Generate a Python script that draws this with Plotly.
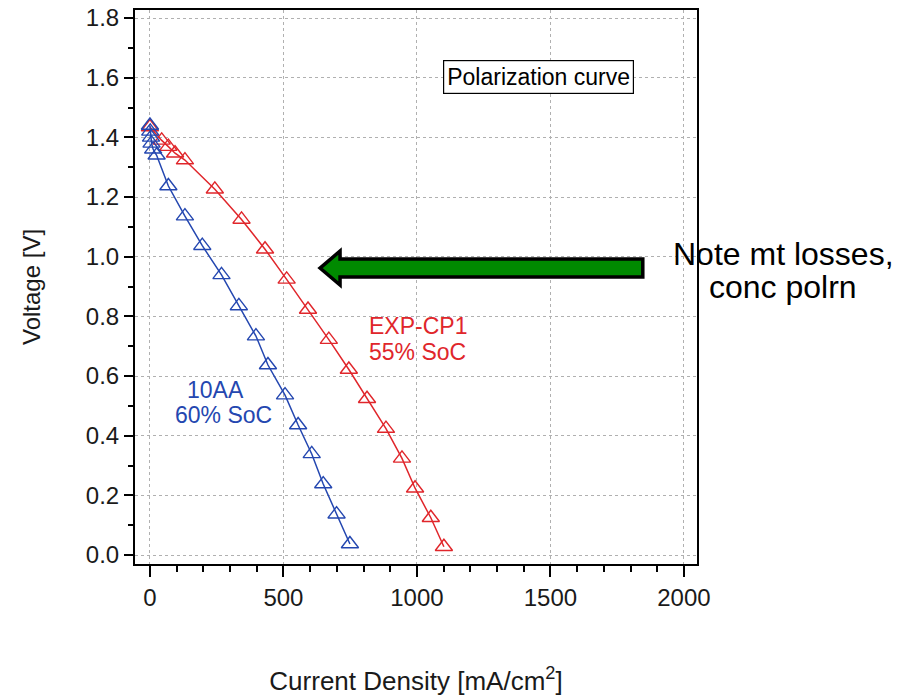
import plotly.graph_objects as go

# Data
red_x = [0, 44, 69, 94, 131, 243, 343, 431, 512, 592, 670, 745, 813, 884, 944, 993, 1052, 1101]
red_y = [1.435, 1.39, 1.369, 1.347, 1.324, 1.226, 1.125, 1.025, 0.924, 0.823, 0.722, 0.622, 0.524, 0.424, 0.324, 0.224, 0.125, 0.028]
blue_x = [0, 1, 4, 6, 12, 25, 69, 131, 196, 268, 333, 397, 442, 506, 555, 606, 649, 699, 749]
blue_y = [1.44, 1.42, 1.40, 1.38, 1.36, 1.34, 1.237, 1.136, 1.037, 0.939, 0.835, 0.734, 0.637, 0.536, 0.436, 0.339, 0.238, 0.137, 0.037]
red_label = ["EXP-CP1", "55% SoC"]
blue_label = ["10AA", "60% SoC"]
note_label = ["Note mt losses,", "conc polrn"]
x_ticks = [0, 500, 1000, 1500, 2000]
y_ticks = [0.0, 0.2, 0.4, 0.6, 0.8, 1.0, 1.2, 1.4, 1.6, 1.8]

RED = "#e0262b"
BLUE = "#2447b0"
INK = "#1a1a1a"
FONT = "Liberation Sans, Arial, sans-serif"

W, H = 909, 697
L, T, R, B = 135, 10, 212, 133

fig = go.Figure()
fig.add_trace(go.Scatter(x=red_x, y=red_y, mode="lines+markers", name="EXP-CP1",
                         line=dict(color=RED, width=1.5),
                         marker=dict(symbol="triangle-up-open", size=15, color=RED, line=dict(width=1.4, color=RED))))
fig.add_trace(go.Scatter(x=blue_x, y=blue_y, mode="lines+markers", name="10AA",
                         line=dict(color=BLUE, width=1.5),
                         marker=dict(symbol="triangle-up-open", size=15, color=BLUE, line=dict(width=1.4, color=BLUE))))

# Green arrow (tip at left)
tip_x, tip_y = 637, 0.962
head_base = 712
tail_x = 1846
shaft_half = 0.03
head_half = 0.057
path = (f"M {tip_x},{tip_y} L {head_base},{tip_y + head_half} L {head_base},{tip_y + shaft_half} "
        f"L {tail_x},{tip_y + shaft_half} L {tail_x},{tip_y - shaft_half} L {head_base},{tip_y - shaft_half} "
        f"L {head_base},{tip_y - head_half} Z")
fig.add_shape(type="path", path=path, xref="x", yref="y", fillcolor="#008a00",
              line=dict(color="black", width=3.5), layer="above")

# series labels (one annotation per line for tight line spacing)
for txt, xv, yv in zip(red_label, [813, 813], [0.767, 0.682]):
    fig.add_annotation(x=xv, y=yv, xref="x", yref="y", text=txt, showarrow=False,
                       xanchor="left", yanchor="middle",
                       font=dict(family=FONT, size=23, color=RED))
for txt, xv, yv in zip(blue_label, [131, 86], [0.552, 0.468]):
    fig.add_annotation(x=xv, y=yv, xref="x", yref="y", text=txt, showarrow=False,
                       xanchor="left", yanchor="middle",
                       font=dict(family=FONT, size=23, color=BLUE))

fig.add_annotation(x=1455, y=1.604, xref="x", yref="y", text="Polarization curve", showarrow=False,
                   xanchor="center", yanchor="middle", bordercolor="black", borderwidth=1.2,
                   borderpad=3, bgcolor="white",
                   font=dict(family=FONT, size=23, color="black"))

# note text, placed by pixel position relative to the plot area
pw, ph = W - L - R, H - T - B
for txt, py in zip(note_label, [254, 287]):
    fig.add_annotation(x=(783 - L) / pw, y=(H - B - py) / ph, xref="x domain", yref="y domain",
                       text=txt, showarrow=False, xanchor="center", yanchor="middle",
                       font=dict(family=FONT, size=32, color="black"))

fig.update_layout(
    width=W, height=H,
    margin=dict(l=L, r=R, t=T, b=B, autoexpand=False),
    paper_bgcolor="white", plot_bgcolor="white",
    showlegend=False,
    font=dict(family=FONT, size=24, color=INK),
)
fig.update_xaxes(range=[-56, 2049], tickvals=x_ticks, ticktext=[str(v) for v in x_ticks],
                 showline=True, linecolor="black", linewidth=2, mirror=True,
                 ticks="outside", ticklen=11, tickwidth=2, tickcolor="black",
                 ticklabeloverflow="allow",
                 tickfont=dict(family=FONT, size=24, color=INK),
                 minor=dict(dtick=100, ticks="outside", ticklen=6, tickwidth=2, tickcolor="black", showgrid=False),
                 showgrid=True, gridcolor="#b0b0b0", griddash="dot", gridwidth=1,
                 zeroline=False,
                 title=dict(text="Current Density [mA/cm<sup>2</sup>]", standoff=62,
                            font=dict(family=FONT, size=26, color=INK)))
fig.update_yaxes(range=[-0.03, 1.827], tickvals=y_ticks, ticktext=[f"{v:.1f}" for v in y_ticks],
                 showline=True, linecolor="black", linewidth=2, mirror=True,
                 ticks="outside", ticklen=9, tickwidth=2, tickcolor="black",
                 ticklabeloverflow="allow",
                 tickfont=dict(family=FONT, size=24, color=INK),
                 minor=dict(dtick=0.1, ticks="outside", ticklen=5, tickwidth=2, tickcolor="black", showgrid=False),
                 showgrid=True, gridcolor="#b0b0b0", griddash="dot", gridwidth=1,
                 zeroline=False,
                 title=dict(text="Voltage [V]", standoff=38,
                            font=dict(family=FONT, size=24, color=INK)))

fig.write_html("out.html", config={"displayModeBar": False},
               post_script="document.body.style.margin='0px';")
